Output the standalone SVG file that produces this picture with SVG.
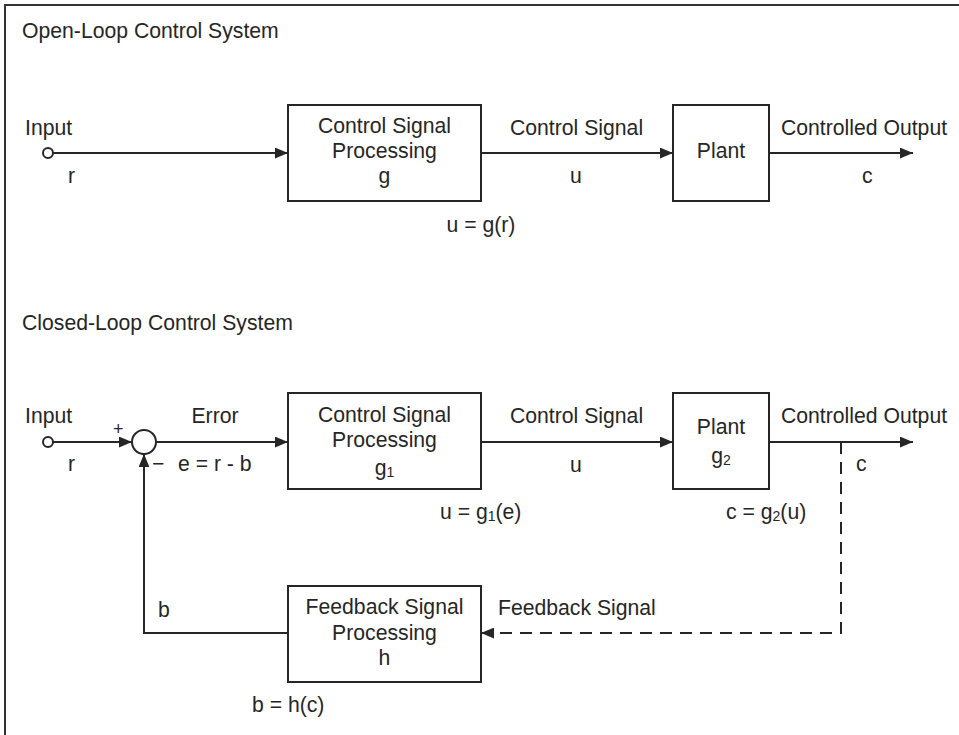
<svg xmlns="http://www.w3.org/2000/svg" width="959" height="735" viewBox="0 0 959 735">
<defs>
<marker id="arr" viewBox="0 0 12 10" refX="12" refY="5" markerWidth="13" markerHeight="11" markerUnits="userSpaceOnUse" orient="auto">
<path d="M0,0 L12,5 L0,10 z" fill="#262626"/>
</marker>
<style>
text{font-family:"Liberation Sans",Arial,sans-serif;font-size:21.2px;fill:#262626}
.c{text-anchor:middle}
.box{fill:#fff;stroke:#262626;stroke-width:2}
.ln{fill:none;stroke:#262626;stroke-width:2}
.dash{stroke-dasharray:12 8}
.sub{font-size:14px}
</style>
</defs>
<rect width="959" height="735" fill="#fff"/>
<path d="M5,735 V5 H959" fill="none" stroke="#333" stroke-width="2"/>

<text x="22" y="38">Open-Loop Control System</text>
<text x="22" y="330">Closed-Loop Control System</text>

<g id="connectors">
<line class="ln" x1="53" y1="153" x2="288" y2="153" marker-end="url(#arr)"/>
<line class="ln" x1="481" y1="153" x2="673" y2="153" marker-end="url(#arr)"/>
<line class="ln" x1="769" y1="153" x2="913" y2="153" marker-end="url(#arr)"/>

<line class="ln" x1="53" y1="442" x2="132" y2="442" marker-end="url(#arr)"/>
<line class="ln" x1="156" y1="442" x2="288" y2="442" marker-end="url(#arr)"/>
<line class="ln" x1="481" y1="442" x2="673" y2="442" marker-end="url(#arr)"/>
<line class="ln" x1="769" y1="442" x2="913" y2="442" marker-end="url(#arr)"/>
<polyline class="ln dash" points="841,442 841,633 481,633" marker-end="url(#arr)"/>
<polyline class="ln" points="288,633 144,633 144,454" marker-end="url(#arr)"/>
</g>

<g id="input1">
<circle cx="48" cy="153" r="5" fill="#fff" stroke="#262626" stroke-width="2"/>
<text x="25" y="135">Input</text>
<text x="68" y="183">r</text>
</g>
<g id="csp1">
<rect class="box" x="288" y="105" width="193" height="96"/>
<text class="c" x="384.5" y="133">Control Signal</text>
<text class="c" x="384.5" y="158">Processing</text>
<text class="c" x="384.5" y="183">g</text>
</g>
<g id="labels1">
<text x="510" y="135">Control Signal</text>
<text x="570" y="183">u</text>
<text class="c" x="481" y="232">u = g(r)</text>
<text x="781" y="135">Controlled Output</text>
<text x="862" y="183">c</text>
</g>
<g id="plant1">
<rect class="box" x="673" y="105" width="96" height="96"/>
<text class="c" x="721" y="158">Plant</text>
</g>

<g id="input2">
<circle cx="48" cy="442" r="5" fill="#fff" stroke="#262626" stroke-width="2"/>
<text x="25" y="423">Input</text>
<text x="68" y="471">r</text>
</g>
<g id="sum">
<circle cx="144" cy="442" r="12" fill="#fff" stroke="#262626" stroke-width="2"/>
<text x="113" y="435" style="font-size:18px">+</text>
<text x="152" y="471">−</text>
</g>
<g id="labels2">
<text class="c" x="215" y="423">Error</text>
<text x="178" y="471">e = r - b</text>
<text x="510" y="423">Control Signal</text>
<text x="570" y="472">u</text>
<text x="440" y="519">u = g<tspan class="sub" dy="2">1</tspan><tspan dy="-2">(e)</tspan></text>
<text x="781" y="423">Controlled Output</text>
<text x="856" y="471">c</text>
<text x="726" y="519">c = g<tspan class="sub" dy="2">2</tspan><tspan dy="-2">(u)</tspan></text>
<text x="498" y="615">Feedback Signal</text>
<text x="158" y="617">b</text>
<text x="252" y="712">b = h(c)</text>
</g>
<g id="csp2">
<rect class="box" x="288" y="393" width="193" height="96"/>
<text class="c" x="384.5" y="422">Control Signal</text>
<text class="c" x="384.5" y="447">Processing</text>
<text class="c" x="384.5" y="475">g<tspan class="sub" dy="2">1</tspan></text>
</g>
<g id="plant2">
<rect class="box" x="673" y="393" width="96" height="96"/>
<text class="c" x="721" y="434">Plant</text>
<text class="c" x="721" y="463">g<tspan class="sub" dy="2">2</tspan></text>
</g>
<g id="fsp">
<rect class="box" x="288" y="586" width="193" height="96"/>
<text class="c" x="384.5" y="614">Feedback Signal</text>
<text class="c" x="384.5" y="640">Processing</text>
<text class="c" x="384.5" y="665">h</text>
</g>
</svg>
